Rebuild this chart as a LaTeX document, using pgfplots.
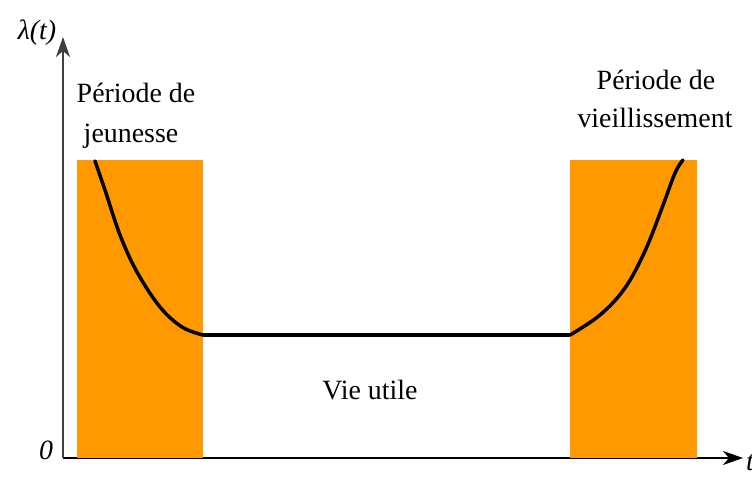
\documentclass[border=0pt]{standalone}
\usepackage{fontspec}
\setmainfont{Liberation Serif}
\usepackage{pgfplots}
\pgfplotsset{compat=1.18}
\usetikzlibrary{arrows.meta}
\definecolor{bande}{HTML}{FF9900}

\begin{document}
\fontsize{28}{33}\selectfont
\begin{tikzpicture}
\begin{axis}[
    scale only axis,
    width=680bp, height=421bp,
    xmin=63, xmax=743,
    ymin=0, ymax=421,
    axis lines=left,
    axis line style={line width=2bp, -{Stealth[length=20bp,width=14bp,inset=6bp]}},
    y axis line style={black!75},
    xtick=\empty, ytick=\empty,
    clip=false,
]
% bandes
\addplot[fill=bande, draw=none] coordinates {(77,298) (203,298)} \closedcycle;
\addplot[fill=bande, draw=none] coordinates {(570,298) (697,298)} \closedcycle;

% courbe en baignoire
\addplot[black, line width=3.5bp, smooth, tension=0.6, line cap=round] coordinates {
    (95,297) (106,265) (120,223) (137,186) (160,151) (182,131) (203,123)
};
\addplot[black, line width=3.5bp] coordinates {(203,123) (570,123)};
\addplot[black, line width=3.5bp, smooth, tension=0.6, line cap=round] coordinates {
    (570,123) (600,143) (625,170) (645,207) (662,250) (675,285) (683,298)
};

% textes
\node[anchor=base, inner sep=0] at (axis cs:136,355) {Période de};
\node[anchor=base, inner sep=0] at (axis cs:131,315) {jeunesse};
\node[anchor=base, inner sep=0] at (axis cs:656,368) {Période de};
\node[anchor=base, inner sep=0] at (axis cs:655,330) {vieillissement};
\node[anchor=base, inner sep=0] at (axis cs:370,59) {Vie utile};
\node[anchor=base, inner sep=0] at (axis cs:37,418) {\itshape λ(t)};
\node[anchor=base, inner sep=0] at (axis cs:46,-1) {\itshape 0};
\node[anchor=base west, inner sep=0] at (axis cs:746,-12) {\itshape t};

\coordinate (bl) at (axis cs:0,-21);
\coordinate (tr) at (axis cs:752,458);
\end{axis}
\pgfresetboundingbox
\useasboundingbox (bl) rectangle (tr);
\end{tikzpicture}
\end{document}
